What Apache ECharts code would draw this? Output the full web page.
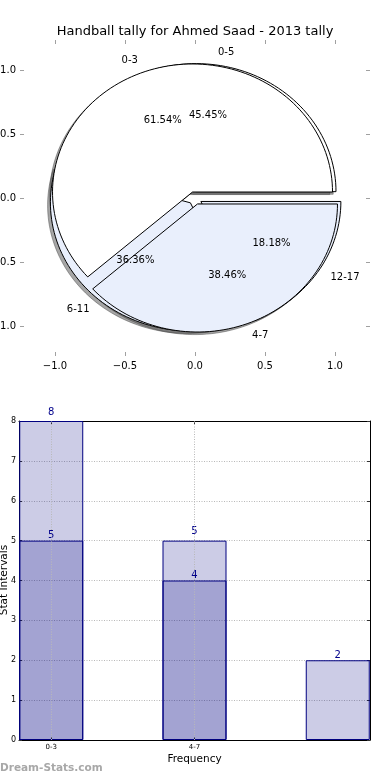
<!DOCTYPE html>
<html>
<head>
<meta charset="utf-8">
<script src="https://cdn.jsdelivr.net/npm/echarts@6/dist/echarts.min.js"></script>
<style>
html,body{margin:0;padding:0;background:#fff;}
#chart{width:390px;height:780px;}
</style>
</head>
<body>
<div id="chart"></div>
<script>
// ---- data ----
const titleText = 'Handball tally for Ahmed Saad - 2013 tally';
const pieLabelsA = ['0-3', '4-7'];
const pieValuesA = [8, 5];
const pieLabelsB = ['0-5', '6-11', '12-17'];
const pieValuesB = [5, 4, 2];
const pieTicks = [-1, -0.5, 0, 0.5, 1];
const barCategories = ['0-3', '4-7', ''];
const barTickPositions = [0, 1];
const barValuesA = [8, 5];
const barValuesB = [5, 4, 2];

// ---- styles ----
const FONT = 'DejaVu Sans';
const pieColorsA = ['#ffffff', '#e9effc'];
const pieColorsB = ['#ffffff', '#e9effc', '#e9effc'];
const explodeA = [0.05, 0.05];
const explodeB = [0.05, 0.05, 0.05];

function buildSlices(values, explode) {
  const total = values.reduce((a, b) => a + b, 0);
  let acc = 0;
  return values.map((v, i) => {
    const a0 = acc / total * 360;
    acc += v;
    const a1 = acc / total * 360;
    const mid = (a0 + a1) / 2 * Math.PI / 180;
    return {
      a0, a1, mid,
      ex: explode[i] * Math.cos(mid),
      ey: explode[i] * Math.sin(mid),
      pct: (v / total * 100).toFixed(2) + '%'
    };
  });
}
const slicesA = buildSlices(pieValuesA, explodeA);
const slicesB = buildSlices(pieValuesB, explodeB);

function wedgePoints(api, s, dx, dy) {
  const pts = [api.coord([s.ex + dx, s.ey + dy])];
  const n = Math.max(8, Math.ceil((s.a1 - s.a0) / 2));
  for (let k = 0; k <= n; k++) {
    const a = (s.a0 + (s.a1 - s.a0) * k / n) * Math.PI / 180;
    pts.push(api.coord([s.ex + dx + Math.cos(a), s.ey + dy + Math.sin(a)]));
  }
  return pts;
}

function shadowSeries(slices) {
  return {
    type: 'custom', xAxisIndex: 0, yAxisIndex: 0, clip: false, silent: true,
    data: slices.map((s, i) => [0, 0, i]),
    renderItem: function (params, api) {
      const s = slices[params.dataIndex];
      return {
        type: 'polygon',
        shape: { points: wedgePoints(api, s, -0.02, -0.02) },
        style: { fill: 'rgba(77,77,77,0.5)', stroke: 'rgba(77,77,77,0.5)', lineWidth: 1 }
      };
    }
  };
}
function wedgeSeries(slices, colors) {
  return {
    type: 'custom', xAxisIndex: 0, yAxisIndex: 0, clip: false, silent: true,
    data: slices.map((s, i) => [0, 0, i]),
    renderItem: function (params, api) {
      const s = slices[params.dataIndex];
      return {
        type: 'polygon',
        shape: { points: wedgePoints(api, s, 0, 0) },
        style: { fill: colors[params.dataIndex], stroke: '#000', lineWidth: 1 }
      };
    }
  };
}
function labelSeries(slices, names) {
  return {
    type: 'custom', xAxisIndex: 0, yAxisIndex: 0, clip: false, silent: true, z: 10,
    data: slices.map((s, i) => [0, 0, i]),
    renderItem: function (params, api) {
      const s = slices[params.dataIndex];
      const cx = Math.cos(s.mid), cy = Math.sin(s.mid);
      const p1 = api.coord([s.ex + 1.1 * cx, s.ey + 1.1 * cy]);
      const p2 = api.coord([s.ex + 0.6 * cx, s.ey + 0.6 * cy]);
      return {
        type: 'group',
        children: [
          { type: 'text', style: { text: names[params.dataIndex], x: p1[0], y: p1[1], fill: '#000',
              fontSize: 10, fontFamily: FONT, align: cx > 0 ? 'left' : 'right', verticalAlign: 'middle' } },
          { type: 'text', style: { text: s.pct, x: p2[0], y: p2[1], fill: '#000',
              fontSize: 10, fontFamily: FONT, align: 'center', verticalAlign: 'middle' } }
        ]
      };
    }
  };
}

const fmtSigned = v => (v < 0 ? '\u2212' : '') + Math.abs(v).toFixed(1);
const tickGray = '#a0a0a0';
const hiddenLine = { show: true, onZero: false, lineStyle: { color: 'rgba(0,0,0,0)' } };
const frameLine = { show: true, onZero: false, lineStyle: { color: '#000', width: 1 } };
const gridDot = { color: '#b8b8b8', type: [1, 1.5], width: 1 };

const chart = echarts.init(document.getElementById('chart'), null, { renderer: 'canvas' });
const option = {
  animation: false,
  backgroundColor: '#fff',
  textStyle: { fontFamily: FONT },
  title: {
    text: titleText, left: 'center', top: 20,
    textStyle: { fontSize: 13, fontWeight: 'normal', color: '#000', fontFamily: FONT }
  },
  grid: [
    { left: 20, right: 20, top: 40, bottom: 424, outerBoundsMode: 'none', containLabel: false },
    { left: 19, right: 20, top: 421, bottom: 40, outerBoundsMode: 'none', containLabel: false }
  ],
  xAxis: [
    { type: 'value', gridIndex: 0, min: -1.25, max: 1.25, position: 'bottom',
      axisLine: hiddenLine, splitLine: { show: false },
      axisTick: { show: true, inside: true, length: 4, customValues: pieTicks, lineStyle: { color: tickGray, width: 1 } },
      axisLabel: { show: true, customValues: pieTicks, margin: 5, fontSize: 10, color: '#000', fontFamily: FONT, formatter: fmtSigned } },
    { type: 'value', gridIndex: 0, min: -1.25, max: 1.25, position: 'top',
      axisLine: hiddenLine, splitLine: { show: false },
      axisTick: { show: true, inside: true, length: 4, customValues: pieTicks, lineStyle: { color: tickGray, width: 1 } },
      axisLabel: { show: false } },
    { type: 'value', gridIndex: 1, min: -0.225, max: 2.225, position: 'bottom',
      name: 'Frequency', nameLocation: 'middle', nameGap: 14,
      nameTextStyle: { fontSize: 10.5, color: '#000', fontFamily: FONT },
      axisLine: frameLine, splitLine: { show: false },
      axisTick: { show: true, inside: true, length: 3, customValues: barTickPositions, lineStyle: { color: '#333' } },
      axisLabel: { show: true, customValues: barTickPositions, margin: 4, fontSize: 7, color: '#000', fontFamily: FONT,
        formatter: v => barCategories[Math.round(v)] } },
    { type: 'value', gridIndex: 1, min: -0.225, max: 2.225, position: 'top',
      axisLine: frameLine, splitLine: { show: false },
      axisTick: { show: true, inside: true, length: 3, customValues: barTickPositions, lineStyle: { color: '#333' } },
      axisLabel: { show: false } }
  ],
  yAxis: [
    { type: 'value', gridIndex: 0, min: -1.234, max: 1.234, position: 'left',
      axisLine: hiddenLine, splitLine: { show: false },
      axisTick: { show: true, inside: true, length: 4, customValues: pieTicks, lineStyle: { color: tickGray, width: 1 } },
      axisLabel: { show: true, customValues: pieTicks, margin: 4, fontSize: 10, color: '#000', fontFamily: FONT, formatter: fmtSigned } },
    { type: 'value', gridIndex: 0, min: -1.234, max: 1.234, position: 'right',
      axisLine: hiddenLine, splitLine: { show: false },
      axisTick: { show: true, inside: true, length: 4, customValues: pieTicks, lineStyle: { color: tickGray, width: 1 } },
      axisLabel: { show: false } },
    { type: 'value', gridIndex: 1, min: 0, max: 8, interval: 1, position: 'left',
      axisLine: frameLine,
      splitLine: { show: true, lineStyle: gridDot },
      axisTick: { show: true, inside: true, length: 3, lineStyle: { color: '#333' } },
      axisLabel: { show: true, margin: 3, fontSize: 8, color: '#000', fontFamily: FONT } },
    { type: 'value', gridIndex: 1, min: 0, max: 8, interval: 1, position: 'right',
      axisLine: frameLine, splitLine: { show: false },
      axisTick: { show: true, inside: true, length: 3, lineStyle: { color: '#333' } },
      axisLabel: { show: false } }
  ],
  graphic: [
    { type: 'text', x: 4, y: 580, rotation: Math.PI / 2, silent: true,
      style: { text: 'Stat Intervals', fill: '#000', fontSize: 10.5, fontFamily: FONT, align: 'center', verticalAlign: 'middle' } },
    { type: 'text', left: 0, top: 763, silent: true,
      style: { text: 'Dream-Stats.com', fill: '#a8a8a8', fontSize: 10.5, fontWeight: 'bold', fontFamily: FONT } }
  ],
  series: [
    shadowSeries(slicesB),
    shadowSeries(slicesA),
    wedgeSeries(slicesB, pieColorsB),
    wedgeSeries(slicesA, pieColorsA),
    labelSeries(slicesB, pieLabelsB),
    labelSeries(slicesA, pieLabelsA),
    {
      type: 'bar', xAxisIndex: 2, yAxisIndex: 2, barWidth: 64, barGap: '-100%',
      data: barValuesB.map((v, i) => [i, v]),
      itemStyle: { color: 'rgba(0,0,128,0.2)', borderColor: '#000080', borderWidth: 1 },
      label: { show: true, position: 'top', distance: 0, color: '#00008b', fontSize: 10, fontFamily: FONT },
      markLine: {
        silent: true, symbol: 'none', label: { show: false },
        lineStyle: gridDot,
        data: barTickPositions.map(v => ({ xAxis: v }))
      }
    },
    {
      type: 'bar', xAxisIndex: 2, yAxisIndex: 2, barWidth: 64, barGap: '-100%',
      data: barValuesA.map((v, i) => [i, v]),
      itemStyle: { color: 'rgba(0,0,128,0.2)', borderColor: '#000080', borderWidth: 1 },
      label: { show: true, position: 'top', distance: 4, color: '#00008b', fontSize: 10, fontFamily: FONT }
    }
  ]
};
chart.setOption(option);
</script>
</body>
</html>
